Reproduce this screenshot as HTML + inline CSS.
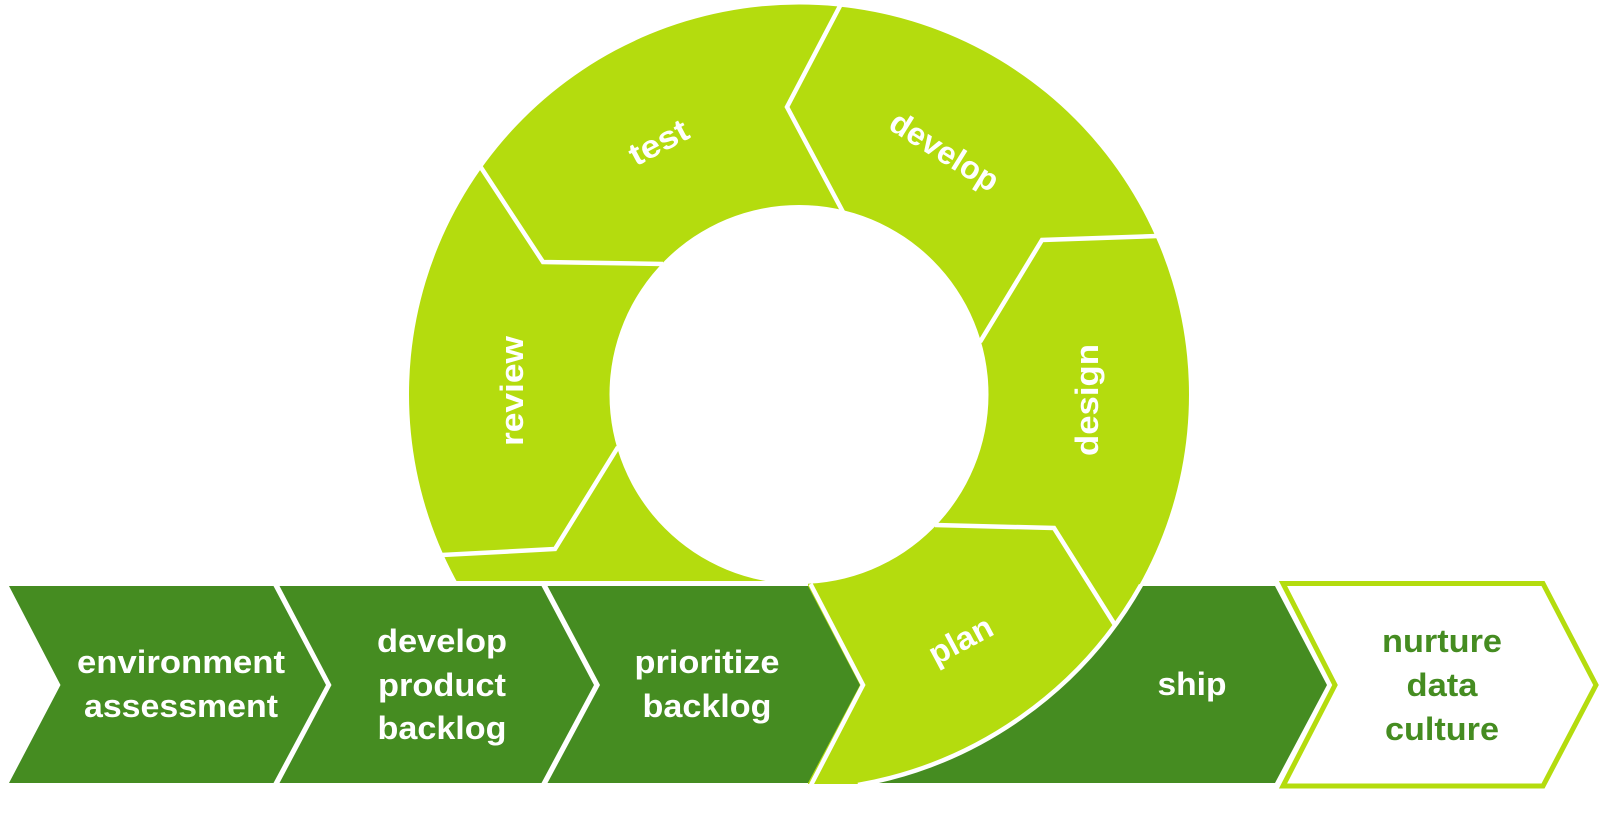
<!DOCTYPE html>
<html>
<head>
<meta charset="utf-8">
<style>
html,body{margin:0;padding:0;background:#fff;width:1600px;height:838px;overflow:hidden}
svg{display:block}
text{font-family:"Liberation Sans",sans-serif;font-weight:700;font-size:32px;fill:#fff;text-anchor:middle}
</style>
</head>
<body>
<svg width="1600" height="838" viewBox="0 0 1600 838" xmlns="http://www.w3.org/2000/svg">
<rect width="1600" height="838" fill="#fff"/>
<polygon points="800,586 1275,586 1327,685 1275,783 800,783" fill="#458c21"/>
<path fill-rule="evenodd" fill="#b4dc0e" d="M409,394.500a390,390 0 1,0 780,0a390,390 0 1,0 -780,0ZM609.500,394.500a189.500,189.500 0 1,0 379,0a189.500,189.500 0 1,0 -379,0Z"/>
<path d="M1140,586A406,406 0 0 1 860,784L815,784L815,700L1100,586Z" fill="#b4dc0e"/>
<path d="M1141,585A406,406 0 0 1 858,785" fill="none" stroke="#fff" stroke-width="4.500"/>
<rect x="400" y="581" width="408" height="210" fill="#fff"/>
<rect x="808" y="784" width="70" height="8" fill="#fff"/>
<g fill="none" stroke="#fff" stroke-width="4.500">
<polyline points="841,4 787,107 843,212"/>
<polyline points="1157,236 1042,240 980,342"/>
<polyline points="935,525 1054,528 1115,625"/>
<polyline points="442,555 555,549 618,447"/>
<polyline points="480,166 543,262 663,264"/>
</g>
<polygon points="9,586 273.500,586 326,685 273.500,783 9,783 60.500,685" fill="#458c21"/>
<polygon points="279.500,586 541.500,586 594,685 541.500,783 279.500,783 331.500,685" fill="#458c21"/>
<polygon points="547.500,586 808,586 860,685 808,783 547.500,783 600,685" fill="#458c21"/>
<polyline points="810.500,584 863,685 811,785" fill="none" stroke="#fff" stroke-width="4.500"/>
<polygon points="1283,583.500 1543,583.500 1596,685 1543,786 1283,786 1335,685" fill="#fff" stroke="#b4dc0e" stroke-width="5"/>

<text x="181" y="673" textLength="208" lengthAdjust="spacingAndGlyphs">environment</text>
<text x="181" y="717" textLength="194" lengthAdjust="spacingAndGlyphs">assessment</text>
<text x="442" y="652" textLength="130" lengthAdjust="spacingAndGlyphs">develop</text>
<text x="442" y="696" textLength="128" lengthAdjust="spacingAndGlyphs">product</text>
<text x="442" y="739" textLength="129" lengthAdjust="spacingAndGlyphs">backlog</text>
<text x="707" y="673" textLength="145" lengthAdjust="spacingAndGlyphs">prioritize</text>
<text x="707" y="717" textLength="129" lengthAdjust="spacingAndGlyphs">backlog</text>
<text x="1192" y="695" textLength="69" lengthAdjust="spacingAndGlyphs">ship</text>
<text x="1442" y="652" textLength="120" lengthAdjust="spacingAndGlyphs" style="fill:#458c21">nurture</text>
<text x="1442" y="696" textLength="71" lengthAdjust="spacingAndGlyphs" style="fill:#458c21">data</text>
<text x="1442" y="740" textLength="114" lengthAdjust="spacingAndGlyphs" style="fill:#458c21">culture</text>

<text transform="translate(659,143) rotate(-28)" y="10" textLength="63" lengthAdjust="spacingAndGlyphs">test</text>
<text transform="translate(944,152) rotate(32)" y="10" textLength="122" lengthAdjust="spacingAndGlyphs">develop</text>
<text transform="translate(513,391) rotate(-90)" y="10" textLength="110" lengthAdjust="spacingAndGlyphs">review</text>
<text transform="translate(1088,400) rotate(-90)" y="10" textLength="112" lengthAdjust="spacingAndGlyphs">design</text>
<text transform="translate(961,641) rotate(-28)" y="10" textLength="68" lengthAdjust="spacingAndGlyphs">plan</text>
</svg>
</body>
</html>
